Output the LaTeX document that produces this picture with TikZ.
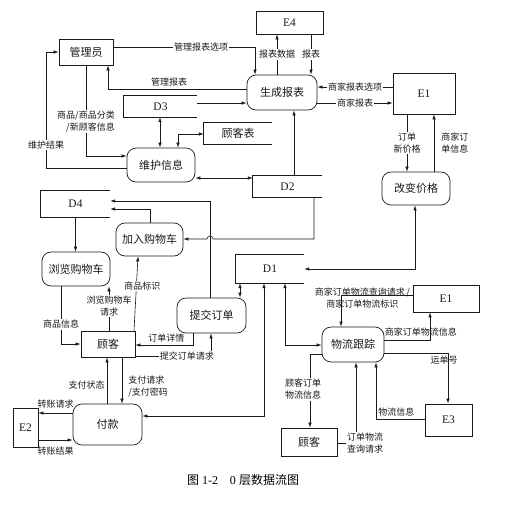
\documentclass[tikz,border=0pt]{standalone}
\usepackage{fontspec}
\setmainfont{Liberation Serif}
\newfontfamily\cjk{Noto Sans CJK SC}
\usepackage{tikz}
\usetikzlibrary{arrows.meta,positioning,calc}
\definecolor{dfInk}{HTML}{1A1A1A}
\tikzset{
  % Process box (rounded)
  pbox/.style={rectangle,rounded corners=9pt,draw=dfInk,line width=0.7pt,
    minimum width=68pt,minimum height=34pt,inner sep=1pt,
    font=\cjk\fontsize{11}{13}\selectfont,text=dfInk},
  % External entity box
  ebox/.style={rectangle,draw=dfInk,line width=0.7pt,inner sep=1pt,
    font=\fontsize{11.5}{13}\selectfont,text=dfInk},
  % Data store (open on the right, lines drawn after)
  sbox/.style={rectangle,inner sep=1pt,
    font=\fontsize{11.5}{13}\selectfont,text=dfInk},
  % Chinese text in a box
  cjkt/.style={font=\cjk\fontsize{11}{13}\selectfont},
  % Arrows
  arr/.style={-{Latex[length=5pt,width=3.4pt]},line width=0.6pt,color=dfInk},
  biarr/.style={{Latex[length=5pt,width=3.4pt]}-{Latex[length=5pt,width=3.4pt]},
    line width=0.6pt,color=dfInk},
  lbl/.style={font=\cjk\fontsize{9}{12}\selectfont,text=dfInk,inner sep=1pt},
}

\begin{document}
\begin{tikzpicture}[x=1pt,y=-1pt]
  \useasboundingbox[fill=white] (0,0) rectangle (516,504);

  % External entities
  \node[ebox,cjkt,minimum width=54pt,minimum height=26pt] (admin) at (86,52) {管理员};
  \node[ebox,minimum width=67pt,minimum height=23pt] (e4) at (289.5,22.5) {E4};
  \node[ebox,minimum width=62pt,minimum height=41pt] (e1top) at (424,93.5) {E1};
  \node[ebox,minimum width=66pt,minimum height=27pt] (e1low) at (446,298.5) {E1};
  \node[ebox,minimum width=25pt,minimum height=39pt] (e2) at (25.5,427.5) {E2};
  \node[ebox,minimum width=47pt,minimum height=32pt] (e3) at (448.5,420) {E3};
  \node[ebox,cjkt,minimum width=54pt,minimum height=26pt] (cust) at (108,344) {顾客};
  \node[ebox,cjkt,minimum width=56pt,minimum height=28pt] (custb) at (309,442) {顾客};

  % Processes
  \node[pbox,minimum width=70pt,minimum height=35pt] (report) at (282,92.5) {生成报表};
  \node[pbox] (maint) at (161,165) {维护信息};
  \node[pbox,minimum height=33pt] (price) at (416,188.5) {改变价格};
  \node[pbox,minimum width=67pt,minimum height=33pt] (addcart) at (149.5,239.5) {加入购物车};
  \node[pbox] (browse) at (76,269) {浏览购物车};
  \node[pbox,minimum width=69pt,minimum height=35pt] (submit) at (211.5,315.5) {提交订单};
  \node[pbox,minimum width=62pt,minimum height=35pt] (track) at (353,344.5) {物流跟踪};
  \node[pbox,minimum width=69pt,minimum height=41pt] (pay) at (107.5,424.5) {付款};

  % Data stores
  \node[sbox,minimum width=73pt,minimum height=21pt] (d3) at (160.5,106.5) {D3};
  \node[sbox,cjkt,minimum width=68pt,minimum height=21pt] (custtab) at (238,133.5) {顾客表};
  \node[sbox,minimum width=69pt,minimum height=21pt] (d2) at (287.5,186.5) {D2};
  \node[sbox,minimum width=69pt,minimum height=26pt] (d4) at (75.5,204) {D4};
  \node[sbox,minimum width=68pt,minimum height=28pt] (d1) at (270,269) {D1};
  \foreach \s in {d1,d2,d3,d4,custtab}
    \draw[dfInk,line width=0.7pt] (\s.north east) -- (\s.north west)
      -- (\s.south west) -- (\s.south east);

  \node[font=\fontsize{12}{14}\selectfont] (cap) at (243,480)
    {{\cjk 图} 1-2\hspace{1em}0 {\cjk 层数据流图}};

  % Admin and reports
  \draw[arr] (admin.east |- 0,47) -| node[lbl,fill=white,pos=0.31] {管理报表选项} (255,0 |- report.north);
  \draw[arr] (report.west |- 0,89) -| node[lbl,above=1pt,pos=0.28] {管理报表} (108,0 |- admin.south);
  \draw[arr] (d3.east |- 0,103) -- (report.west |- 0,103);
  \draw[arr] (277,0 |- report.north) -- node[lbl,fill=white] {报表数据} (277,0 |- e4.south);
  \draw[arr] (311,0 |- e4.south) -- node[lbl,fill=white] {报表} (311,0 |- report.north);
  \draw[arr] (e1top.west |- 0,87) -- node[lbl,fill=white] {商家报表选项} (report.east |- 0,87);
  \draw[arr] (report.east |- 0,103) -- node[lbl,fill=white] {商家报表} (e1top.west |- 0,103);

  % Maintenance
  \draw[arr] (86,0 |- admin.south) |- node[lbl,fill=white,pos=0.31,align=right]
    {商品/商品分类\\/新顾客信息} (maint.west |- 0,156);
  \draw[arr] (maint.west |- 0,168) -| node[lbl,fill=white,pos=0.6] {维护结果}
    (46,0 |- admin.west) -- (admin.west);
  \draw[biarr] (160,0 |- d3.south) -- (160,0 |- maint.north);
  \draw[biarr] (178,0 |- maint.north) |- (custtab.west |- 0,134);
  \draw[biarr] (maint.east |- 0,178) -- (d2.west |- 0,178);
  \draw[arr] (294,0 |- d2.north) -- (294,0 |- report.south);

  % Price change
  \draw[arr] (407,0 |- e1top.south) -- node[lbl,fill=white,align=center] {订单\\新价格} (407,0 |- price.north);
  \draw[arr] (434,0 |- price.north) -- node[lbl,right=6pt,align=left] {商家订\\单信息} (434,0 |- e1top.south);
  \draw[biarr] (415,0 |- price.south) |- (d1.east |- 0,269);

  % Shopping cart
  \coordinate (hop) at (210,239);
  \draw[arr] (210,0 |- submit.north) |- (d4.east |- 0,201);
  \draw[arr] (314,0 |- d2.south) |- ([xshift=3pt]hop)
    arc[start angle=0,end angle=180,radius=3pt] -- (addcart.east |- hop);
  \draw[arr] (150,0 |- addcart.north) |- (d4.east |- 0,209);
  \draw[arr] (d4.south) -- (d4.south |- browse.north);
  \draw[arr] (61,0 |- browse.south) |- node[lbl,fill=white,pos=0.33] {商品信息} (cust.west |- 0,344);
  \draw[arr] (109,0 |- cust.north) -- node[lbl,fill=white,align=center,pos=0.55] {浏览购物车\\请求} (109,0 |- browse.south);
  \draw[arr] (134,0 |- cust.north) -- node[lbl,fill=white,pos=0.6,xshift=6pt] {商品标识} (138,0 |- addcart.south);

  % Order submission
  \draw[arr] (193,0 |- submit.south) |- node[lbl,above=1pt,pos=0.73] {订单详情} (cust.east |- 0,345);
  \draw[arr] (cust.east |- 0,356) -| node[lbl,fill=white,pos=0.34] {提交订单请求} (211,0 |- submit.south);
  \draw[biarr] (240,0 |- submit.north) -- (240,0 |- d1.south);

  % Payment
  \draw[arr] (122,0 |- cust.south) -- node[lbl,right=5pt,align=left,yshift=-6pt] {支付请求\\/支付密码} (122,0 |- pay.north);
  \draw[arr] (107,0 |- pay.north) -- node[lbl,left=1pt,yshift=-5pt] {支付状态} (107,0 |- cust.south);
  \draw[arr] (pay.west |- 0,413) -- node[lbl,above=3pt] {转账请求} (e2.east |- 0,413);
  \draw[arr] (e2.east |- 0,440) -- node[lbl,below=6pt] {转账结果} (pay.west |- 0,440);
  \draw[biarr] (264,0 |- d1.south) |- (pay.east |- 0,416);

  % Logistics
  \draw[biarr] (285,0 |- d1.south) |- (track.west |- 0,345);
  \draw[arr] (e1low.west |- 0,295) -| node[lbl,align=center,pos=0.35,yshift=-3pt]
    {商家订单物流查询请求\,/\\商家订单物流标识} (341,0 |- track.north);
  \draw[arr] (track.east |- 0,340) -| node[lbl,above=2pt,pos=0.4] {商家订单物流信息} (430,0 |- e1low.south);
  \draw[arr] (track.east |- 0,353) -| node[lbl,pos=0.57,xshift=-4pt] {运单号} (448,0 |- e3.north);
  \draw[arr] (e3.west |- 0,419) -| node[lbl,above=1pt,pos=0.29] {物流信息} (376,0 |- track.south);
  \draw[arr] (custb.east |- 0,443) -| node[lbl,fill=white,align=center,pos=0.5,xshift=9pt]
    {订单物流\\查询请求} (356,0 |- track.south);
  \draw[arr] (track.west |- 0,354) -| node[lbl,fill=white,align=center,pos=0.74,xshift=-7pt]
    {顾客订单\\物流信息} (310,0 |- custb.north);
\end{tikzpicture}
\end{document}
